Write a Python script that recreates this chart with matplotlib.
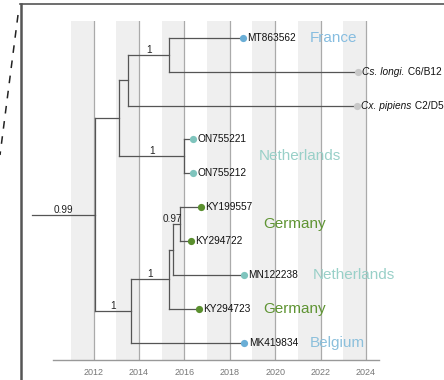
import numpy as np
import matplotlib
matplotlib.use('Agg')
import matplotlib.pyplot as plt
from matplotlib.lines import Line2D

plt.rcParams['font.family'] = ['Liberation Sans', 'DejaVu Sans']

# tips, listed top to bottom
tip_names = ["MT863562", "Cs. longi.", "Cx. pipiens", "ON755221", "ON755212",
             "KY199557", "KY294722", "MN122238", "KY294723", "MK419834"]
tip_suffix = ["", " C6/B12", " C2/D5", "", "", "", "", "", "", ""]
tip_dates = [2018.57, 2023.64, 2023.60, 2016.39, 2016.39,
             2016.74, 2016.29, 2018.62, 2016.65, 2018.64]
tip_group = ["France", "Culex", "Culex", "Netherlands", "Netherlands",
             "Germany", "Germany", "Netherlands", "Germany", "Belgium"]

# internal nodes (children are tip or node names)
node_names = ["root", "A", "B", "C", "ON", "D", "E", "F", "G"]
node_dates = [2012.06, 2013.13, 2013.54, 2015.31, 2015.99,
              2013.63, 2015.32, 2015.51, 2015.82]
node_children = [["A", "D"], ["B", "ON"], ["C", "Cx. pipiens"],
                 ["MT863562", "Cs. longi."], ["ON755221", "ON755212"],
                 ["E", "MK419834"], ["F", "KY294723"], ["G", "MN122238"],
                 ["KY199557", "KY294722"]]
node_support = ["0.99", "", "", "1", "1", "1", "1", "", "0.97"]
root_stem_start = 2009.27

years = [2012, 2014, 2016, 2018, 2020, 2022, 2024]
band_starts = [2011, 2013, 2015, 2017, 2019, 2021, 2023]

countries = ["France", "Netherlands", "Germany", "Netherlands", "Germany", "Belgium"]

dot_colors = {"France": "#6aaed6", "Belgium": "#6aaed6", "Netherlands": "#7fc4bd",
              "Germany": "#5a8f2e", "Culex": "#c8c8c8"}
label_colors = {"France": "#86bde0", "Belgium": "#8cc0dc", "Netherlands": "#99d0c8",
                "Germany": "#5f9433"}

# ---- layout
date = dict(zip(tip_names, tip_dates))
date.update(zip(node_names, node_dates))
kids = dict(zip(node_names, node_children))
ypos = {n: i for i, n in enumerate(tip_names)}

def get_y(n):
    if n not in ypos:
        ypos[n] = np.mean([get_y(c) for c in kids[n]])
    return ypos[n]

get_y("root")
parent = {c: p for p in node_names for c in kids[p]}

fig = plt.figure(figsize=(4.44, 3.8), dpi=100)
ax = fig.add_axes([53 / 444, 20 / 380, 326 / 444, 339.3 / 380])

for b in band_starts:
    ax.axvspan(b, b + 1, color="#efefef", lw=0, zorder=0)
for y in years:
    ax.axvline(y, color="#aaaaaa", lw=0.9, zorder=1)

lc = "#555555"
for n in node_names:
    ys = [ypos[c] for c in kids[n]]
    ax.plot([date[n], date[n]], [min(ys), max(ys)], color=lc, lw=0.9, zorder=2)
    for c in kids[n]:
        ax.plot([date[n], date[c]], [ypos[c], ypos[c]], color=lc, lw=0.9, zorder=2)
ax.plot([root_stem_start, date["root"]], [ypos["root"], ypos["root"]],
        color=lc, lw=0.9, zorder=2, clip_on=False)

# support values
for n, s in zip(node_names, node_support):
    if not s:
        continue
    p0 = root_stem_start if n == "root" else date[parent[n]]
    if date[n] - p0 < 0.5:
        ax.annotate(s, (date[n], ypos[n]), xytext=(1, 1.5), textcoords="offset points",
                    ha="right", va="baseline", fontsize=7.2, color="#222222",
                    annotation_clip=False)
    else:
        ax.annotate(s, ((p0 + date[n]) / 2, ypos[n]), xytext=(0, 1.5),
                    textcoords="offset points", ha="center", va="baseline",
                    fontsize=7.2, color="#222222", annotation_clip=False)

# tips
for i, n in enumerate(tip_names):
    ax.plot(date[n], ypos[n], "o", ms=5.2, color=dot_colors[tip_group[i]],
            mec="none", zorder=3, clip_on=False)
    italic = tip_suffix[i] != ""
    t = ax.annotate(n, (date[n], ypos[n]), xytext=(3.2, 0), textcoords="offset points",
                    ha="left", va="center", fontsize=7.3, color="#111111",
                    style="italic" if italic else "normal", annotation_clip=False)
    if italic:
        ax.annotate(tip_suffix[i], xy=(1, 0.5), xycoords=t, ha="left", va="center",
                    fontsize=7.3, color="#111111")

# country labels
country_pos = [(2021.5, 0), (2019.27, 3.5), (2019.49, 5.5),
               (2021.65, 7), (2019.49, 8), (2021.53, 9)]
for c, (x, y) in zip(countries, country_pos):
    ax.text(x, y, c, fontsize=11, color=label_colors[c], ha="left", va="center")

ax.set_xlim(2010.216, 2024.57)
ax.set_ylim(9.5, -0.5)
for s in ["left", "right", "top"]:
    ax.spines[s].set_visible(False)
ax.spines["bottom"].set_color("#999999")
ax.spines["bottom"].set_linewidth(1)
ax.set_yticks([])
ax.set_xticks(years)
ax.tick_params(axis="x", length=0, pad=5.5, labelsize=6.5, labelcolor="#777777")

# frame of the zoom panel
fig.add_artist(Line2D([21 / 444, 21 / 444], [0, 376 / 380], transform=fig.transFigure,
                      color="#555555", lw=1.8))
fig.add_artist(Line2D([20 / 444, 1], [376 / 380, 376 / 380], transform=fig.transFigure,
                      color="#555555", lw=1.2))
fig.add_artist(Line2D([18 / 444, 0], [365 / 380, 225 / 380], transform=fig.transFigure,
                      color="#222222", lw=1.1, ls=(0, (5, 5))))

fig.savefig("out.png", dpi=100)
